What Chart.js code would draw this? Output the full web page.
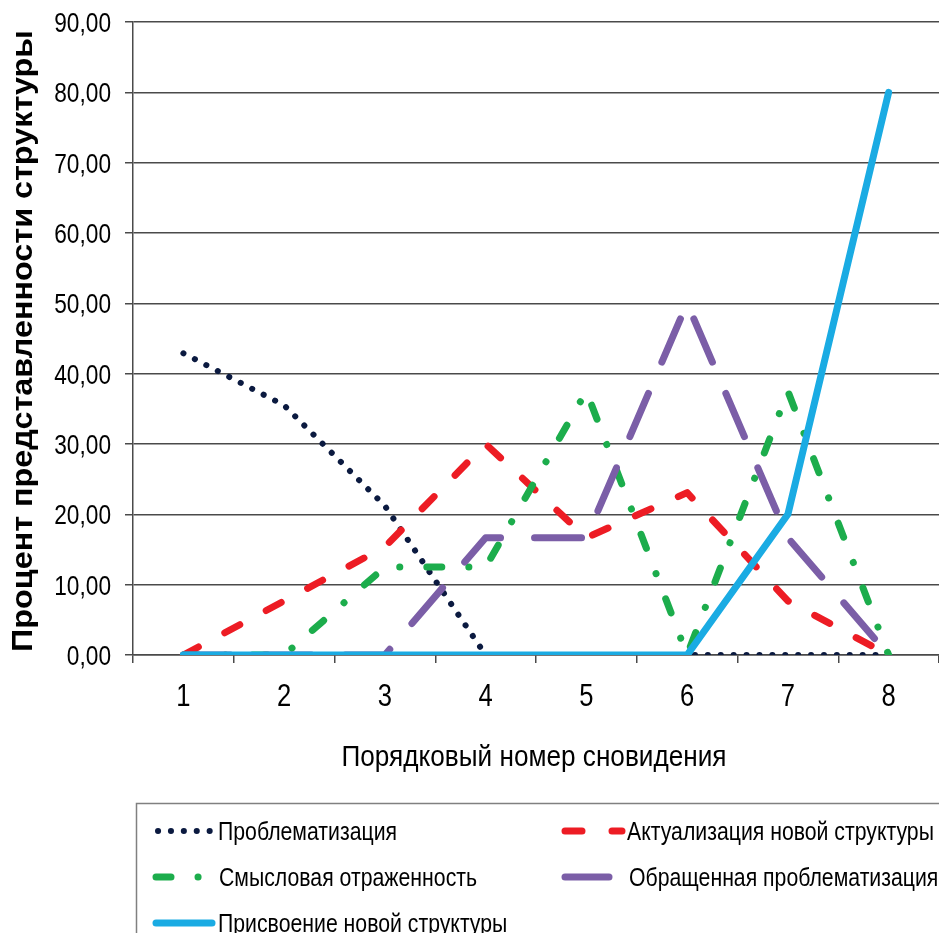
<!DOCTYPE html>
<html>
<head>
<meta charset="utf-8">
<script src="https://cdn.jsdelivr.net/npm/chart.js@4"></script>
<style>
  body { margin: 0; background: #fff; }
  #wrap { width: 939px; height: 933px; overflow: hidden; }
</style>
</head>
<body>
<div id="wrap"><canvas id="dreamChart" width="939" height="933"></canvas></div>
<script>
// данные
const dreams = ['1', '2', '3', '4', '5', '6', '7', '8'];
const problematization = [42.9, 35.5, 21.2, 0, 0, 0, 0, 0];
const actualization = [0, 7.69, 15.38, 30, 16.67, 23.08, 7.69, 0];
const reflection = [0, 0, 12.5, 12.5, 37.5, 0, 37.5, 0];
const reversedProblem = [0, 0, 0, 16.67, 16.67, 50, 16.67, 0];
const appropriation = [0, 0, 0, 0, 0, 0, 20, 80];

const seriesNames = [
  'Проблематизация',
  'Актуализация новой структуры',
  'Смысловая отраженность',
  'Обращенная проблематизация',
  'Присвоение новой структуры'
];
const yMin = 0, yMax = 90, yStep = 10;
const xTitle = 'Порядковый номер сновидения';
const yTitle = 'Процент представленности структуры';

const FONT = '"Liberation Sans", Arial, sans-serif';
const gridColor = '#4a4a4a';

const datasets = [
  { label: seriesNames[0], data: problematization, borderColor: '#0b1a40', borderWidth: 6,
    borderDash: [0.1, 12.8], order: 5 },
  { label: seriesNames[1], data: actualization, borderColor: '#ed1c24', borderWidth: 7,
    borderDash: [17, 30], order: 4 },
  { label: seriesNames[2], data: reflection, borderColor: '#1cad4c', borderWidth: 7,
    borderDash: [15, 27, 0.1, 27], order: 3 },
  { label: seriesNames[3], data: reversedProblem, borderColor: '#7b5ea7', borderWidth: 7,
    borderDash: [47, 34], order: 2 },
  { label: seriesNames[4], data: appropriation, borderColor: '#1aabe3', borderWidth: 7,
    borderDash: [], order: 1 }
];
datasets.forEach(ds => {
  ds.pointRadius = 0;
  ds.pointHoverRadius = 0;
  ds.tension = 0;
  ds.fill = false;
  ds.borderCapStyle = 'round';
  ds.borderJoinStyle = 'round';
});

// текст в оригинале сжат по горизонтали, поэтому рисуем его сами
function drawText(ctx, text, x, y, opts) {
  ctx.save();
  ctx.translate(x, y);
  if (opts.rotate) ctx.rotate(opts.rotate);
  ctx.font = opts.font;
  ctx.fillStyle = '#000';
  ctx.textBaseline = 'alphabetic';
  ctx.textAlign = opts.align || 'left';
  const sx = opts.fit ? opts.fit / ctx.measureText(text).width : (opts.sx || 1);
  ctx.scale(sx, 1);
  ctx.fillText(text, 0, 0);
  ctx.restore();
}

// легенда в рамке под графиком, две колонки
const legendItems = [
  { ds: 0, x0: 158, x1: 212, tx: 218, y: 840 },
  { ds: 1, x0: 565, x1: 622, tx: 627, y: 840 },
  { ds: 2, x0: 156, x1: 210, tx: 219, y: 886 },
  { ds: 3, x0: 565, x1: 609, tx: 629, y: 886 },
  { ds: 4, x0: 156, x1: 212, tx: 218, y: 932 }
];

const textLayer = {
  id: 'textLayer',
  afterDraw(chart) {
    const ctx = chart.ctx;
    const xs = chart.scales.x, ys = chart.scales.y;

    for (let v = yMin; v <= yMax; v += yStep) {
      const py = ys.getPixelForValue(v);
      drawText(ctx, v.toFixed(2).replace('.', ','), 111, py + 10,
        { font: '28px ' + FONT, align: 'right', sx: 0.81 });
    }
    dreams.forEach((d, i) => {
      drawText(ctx, d, xs.getPixelForValue(i), 706,
        { font: '32px ' + FONT, align: 'center', sx: 0.8 });
    });
    drawText(ctx, xTitle, 534, 766, { font: '30px ' + FONT, align: 'center', fit: 385 });
    drawText(ctx, yTitle, 32, 652, { font: 'bold 29px ' + FONT, align: 'left', fit: 622, rotate: -Math.PI / 2 });

    ctx.save();
    ctx.strokeStyle = '#808080';
    ctx.lineWidth = 1.5;
    ctx.strokeRect(136.5, 803.5, 900, 200);
    legendItems.forEach(item => {
      const ds = chart.data.datasets[item.ds];
      const ly = item.y - 9;
      ctx.beginPath();
      ctx.setLineDash(ds.borderDash);
      ctx.lineDashOffset = 0;
      ctx.lineCap = 'round';
      ctx.lineWidth = ds.borderWidth;
      ctx.strokeStyle = ds.borderColor;
      ctx.moveTo(item.x0, ly);
      ctx.lineTo(item.x1, ly);
      ctx.stroke();
      ctx.setLineDash([]);
      drawText(ctx, ds.label, item.tx, item.y, { font: '25px ' + FONT, sx: 0.85 });
    });
    ctx.restore();
  }
};

new Chart(document.getElementById('dreamChart'), {
  type: 'line',
  data: { labels: dreams, datasets: datasets },
  options: {
    responsive: false,
    animation: false,
    events: [],
    layout: { padding: { top: 22, right: 0, bottom: 0, left: 0 } },
    plugins: {
      legend: { display: false },
      tooltip: { enabled: false }
    },
    scales: {
      x: {
        offset: true,
        afterFit: scale => { scale.height = 278; },
        grid: {
          offset: true,
          drawOnChartArea: false,
          drawTicks: true,
          tickLength: 8,
          color: gridColor,
          lineWidth: 1.5
        },
        border: { display: true, color: gridColor, width: 1.5 },
        ticks: { display: false }
      },
      y: {
        min: yMin,
        max: yMax,
        afterFit: scale => { scale.width = 133; },
        grid: {
          color: gridColor,
          lineWidth: 1.5,
          tickLength: 8
        },
        border: { display: true, color: gridColor, width: 1.5 },
        ticks: { display: false, stepSize: yStep }
      }
    }
  },
  plugins: [textLayer]
});
</script>
</body>
</html>
